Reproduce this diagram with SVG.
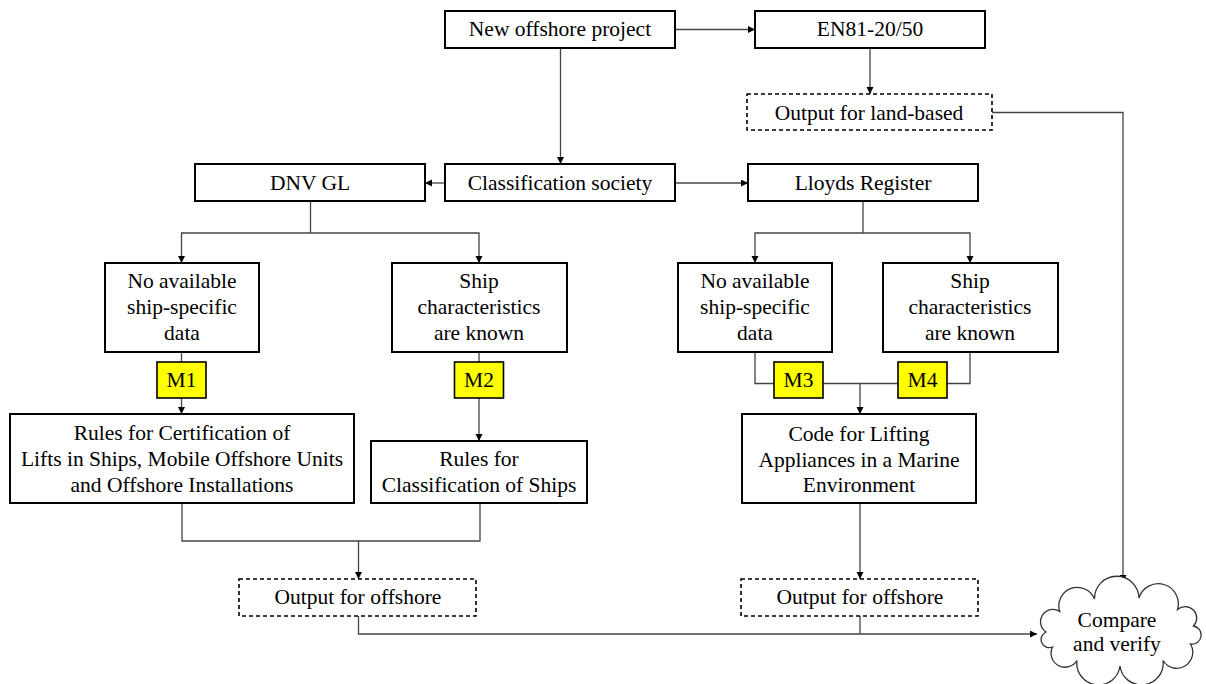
<svg xmlns="http://www.w3.org/2000/svg" width="1206" height="684" viewBox="0 0 1206 684">
<defs>
<marker id="ah" markerWidth="8" markerHeight="8" refX="7" refY="3.5" orient="auto" markerUnits="userSpaceOnUse">
<path d="M0,0 L7,3.5 L0,7 z" fill="#000"/>
</marker>
<style>
.box{fill:#fff;stroke:#000;stroke-width:2}
.dash{fill:#fff;stroke:#000;stroke-width:1.6;stroke-dasharray:4 3}
.m{fill:#ffff00;stroke:#000;stroke-width:1.6}
text{font-family:'Liberation Serif','DejaVu Serif',serif;font-size:21.5px;fill:#000;text-anchor:middle}
.c{fill:none;stroke:#444;stroke-width:1.3}
.a{marker-end:url(#ah)}
.cloud{fill:#fff;stroke:#333;stroke-width:1.3}
</style>
</defs>
<rect width="1206" height="684" fill="#fff"/>

<g id="connectors">
<path class="c a" d="M675,29.5 H755"/>
<path class="c a" d="M870,48 V94"/>
<path class="c a" d="M992,112.5 H1123 V582"/>
<path class="c a" d="M560.5,48 V164"/>
<path class="c a" d="M445,183 H425"/>
<path class="c a" d="M675,183 H748"/>
<path class="c" d="M310.5,201 V233"/>
<path class="c a" d="M310.5,233 H181.5 V263"/>
<path class="c a" d="M310.5,233 H479 V263"/>
<path class="c" d="M181.5,352 V362"/>
<path class="c a" d="M181.5,398 V414"/>
<path class="c" d="M479,352 V362"/>
<path class="c a" d="M479,398 V441"/>
<path class="c" d="M863,201 V233"/>
<path class="c a" d="M863,233 H755 V263"/>
<path class="c a" d="M863,233 H970 V263"/>
<path class="c" d="M755,352 V383.5 H774"/>
<path class="c" d="M823,383.5 H898"/>
<path class="c" d="M970,352 V383.5 H947"/>
<path class="c a" d="M860,383.5 V414"/>
<path class="c" d="M182,503 V541 H480 V503"/>
<path class="c a" d="M358.5,541 V579"/>
<path class="c a" d="M358.5,616 V634 H1037"/>
<path class="c a" d="M860,503 V579"/>
<path class="c" d="M860,616 V634"/>
</g>

<g id="n-new" font-family="Liberation Serif, serif"><rect class="box" x="445" y="11" width="230" height="37"/><text x="560" y="36">New offshore project</text></g>
<g id="n-en81"><rect class="box" x="755" y="11" width="230" height="37"/><text x="870" y="36">EN81-20/50</text></g>
<g id="n-land"><rect class="dash" x="747" y="94" width="245" height="36"/><text x="869" y="120">Output for land-based</text></g>
<g id="n-class"><rect class="box" x="445" y="164" width="230" height="37"/><text x="560" y="190">Classification society</text></g>
<g id="n-dnv"><rect class="box" x="195" y="164" width="230" height="37"/><text x="310" y="190">DNV GL</text></g>
<g id="n-lloyds"><rect class="box" x="748" y="164" width="230" height="37"/><text x="863" y="190">Lloyds Register</text></g>

<g id="n-dnv-nodata"><rect class="box" x="105" y="263" width="154" height="89"/>
<text x="182" y="288">No available</text><text x="182" y="314">ship-specific</text><text x="182" y="340">data</text></g>
<g id="n-dnv-known"><rect class="box" x="392" y="263" width="175" height="89"/>
<text x="479" y="288">Ship</text><text x="479" y="314">characteristics</text><text x="479" y="340">are known</text></g>
<g id="n-lr-nodata"><rect class="box" x="678" y="263" width="154" height="89"/>
<text x="755" y="288">No available</text><text x="755" y="314">ship-specific</text><text x="755" y="340">data</text></g>
<g id="n-lr-known"><rect class="box" x="883" y="263" width="175" height="89"/>
<text x="970" y="288">Ship</text><text x="970" y="314">characteristics</text><text x="970" y="340">are known</text></g>

<g id="n-m1"><rect class="m" x="157" y="362" width="49" height="36"/><text x="181.5" y="387">M1</text></g>
<g id="n-m2"><rect class="m" x="454.5" y="362" width="49" height="36"/><text x="479" y="387">M2</text></g>
<g id="n-m3"><rect class="m" x="774" y="362" width="49" height="36"/><text x="798.5" y="387">M3</text></g>
<g id="n-m4"><rect class="m" x="898" y="362" width="49" height="36"/><text x="922.5" y="387">M4</text></g>

<g id="n-rules-cert"><rect class="box" x="10" y="414" width="344" height="89"/>
<text x="182" y="440">Rules for Certification of</text><text x="182" y="466">Lifts in Ships, Mobile Offshore Units</text><text x="182" y="492">and Offshore Installations</text></g>
<g id="n-rules-class"><rect class="box" x="371" y="441" width="216" height="62"/>
<text x="479" y="466">Rules for</text><text x="479" y="492">Classification of Ships</text></g>
<g id="n-code"><rect class="box" x="742" y="414" width="234" height="89"/>
<text x="859" y="441">Code for Lifting</text><text x="859" y="467">Appliances in a Marine</text><text x="859" y="492">Environment</text></g>

<g id="n-out-left"><rect class="dash" x="239" y="579" width="237" height="37"/><text x="358" y="604">Output for offshore</text></g>
<g id="n-out-right"><rect class="dash" x="741" y="579" width="237" height="37"/><text x="860" y="604">Output for offshore</text></g>

<g id="n-compare">
<path class="cloud" d="M1046,632 A12,12 0 0 1 1059.7,611.5 A18.5,18.5 0 0 1 1094.5,599 A21.5,21.5 0 0 1 1139,598 A19,19 0 0 1 1177.5,609.5 A11.5,11.5 0 0 1 1193.5,626 A9,9 0 0 1 1190.5,644 A16,16 0 0 1 1163,660.5 A21.5,21.5 0 0 1 1120,666 A21.5,21.5 0 0 1 1077,660.5 A14,14 0 0 1 1052.5,647 A8,8 0 0 1 1046,632 z"/>
<text x="1117" y="627">Compare</text><text x="1117" y="651">and verify</text>
</g>
</svg>
